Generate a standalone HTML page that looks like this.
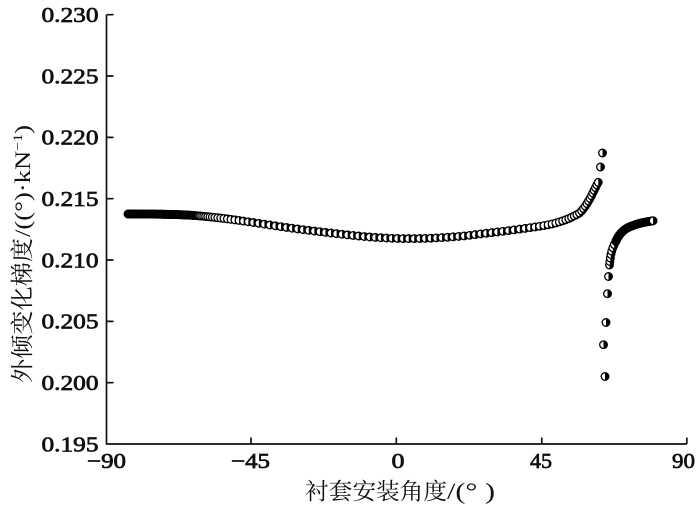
<!DOCTYPE html>
<html>
<head>
<meta charset="utf-8">
<style>
html,body{margin:0;padding:0;background:#fff;}
svg{display:block;}
.t{font-family:"Liberation Serif","Noto Serif CJK SC",serif;fill:#111;}
.n{font-size:21px;stroke:#111;stroke-width:0.7px;}
</style>
</head>
<body>
<svg id="s" width="700" height="505" viewBox="0 0 700 505" xmlns="http://www.w3.org/2000/svg">
<rect width="700" height="505" fill="#fff"/>
<!-- axes -->
<g stroke="#111" stroke-width="1.7" fill="none">
<path d="M106.5,14.7 L106.5,444 L686.8,444"/>
<path d="M106.5,14.7H113.5M106.5,76H113.5M106.5,137.4H113.5M106.5,198.7H113.5M106.5,260H113.5M106.5,321.4H113.5M106.5,382.7H113.5"/>
<path d="M251,444V437.5M396.3,444V437.5M541.8,444V437.5M686.8,444V437.5"/>
</g>
<!-- y tick labels -->
<g class="t n" text-anchor="end">
<text x="98.5" y="22" textLength="57" lengthAdjust="spacingAndGlyphs">0.230</text>
<text x="98.5" y="83.3" textLength="57" lengthAdjust="spacingAndGlyphs">0.225</text>
<text x="98.5" y="144.7" textLength="57" lengthAdjust="spacingAndGlyphs">0.220</text>
<text x="98.5" y="206" textLength="57" lengthAdjust="spacingAndGlyphs">0.215</text>
<text x="98.5" y="267.3" textLength="57" lengthAdjust="spacingAndGlyphs">0.210</text>
<text x="98.5" y="328.7" textLength="57" lengthAdjust="spacingAndGlyphs">0.205</text>
<text x="98.5" y="390" textLength="57" lengthAdjust="spacingAndGlyphs">0.200</text>
<text x="98.5" y="451.3" textLength="57" lengthAdjust="spacingAndGlyphs">0.195</text>
</g>
<!-- x tick labels -->
<g class="t n">
<text x="87" y="468" textLength="39" lengthAdjust="spacingAndGlyphs">−90</text>
<text x="231" y="468" textLength="39" lengthAdjust="spacingAndGlyphs">−45</text>
<text x="391.5" y="468" textLength="13" lengthAdjust="spacingAndGlyphs">0</text>
<text x="530" y="468" textLength="22" lengthAdjust="spacingAndGlyphs">45</text>
<text x="672" y="468" textLength="23" lengthAdjust="spacingAndGlyphs">90</text>
</g>
<!-- x title -->
<g class="t">
<text x="305" y="499" font-size="23" textLength="142" lengthAdjust="spacingAndGlyphs">衬套安装角度</text>
<text x="447" y="499" font-size="23" textLength="48" lengthAdjust="spacingAndGlyphs">/(° )</text>
</g>
<!-- y title -->
<g class="t" transform="translate(30,383) rotate(-90)">
<text x="0" y="0" font-size="23" textLength="145" lengthAdjust="spacingAndGlyphs">外倾变化梯度</text>
<text x="146" y="0" font-size="22" textLength="112" lengthAdjust="spacingAndGlyphs">/((°)·kN<tspan font-size="13" dy="-8">−1</tspan><tspan dy="8">)</tspan></text>
</g>
<g id="pts"></g>
<path d="M128.5,214 L160,214.2 L192,215.4" stroke="#000" stroke-width="7.6" stroke-linecap="round" fill="none"/>
</svg>
<script>
(function(){
function spline(P,steps){
  var out=[];
  for(var i=0;i<P.length-1;i++){
    var p0=P[Math.max(i-1,0)],p1=P[i],p2=P[i+1],p3=P[Math.min(i+2,P.length-1)];
    for(var k=0;k<steps;k++){
      var t=k/steps,t2=t*t,t3=t2*t;
      var f=function(a,b,c,d){return 0.5*((2*b)+(-a+c)*t+(2*a-5*b+4*c-d)*t2+(-a+3*b-3*c+d)*t3);};
      out.push([f(p0[0],p1[0],p2[0],p3[0]),f(p0[1],p1[1],p2[1],p3[1])]);
    }
  }
  out.push(P[P.length-1]);
  return out;
}
function place(P,sp){
  var pts=spline(P,200);var res=[pts[0]];var acc=0;
  for(var i=1;i<pts.length;i++){
    acc+=Math.hypot(pts[i][0]-pts[i-1][0],pts[i][1]-pts[i-1][1]);
    if(acc>=sp(pts[i][0])){res.push(pts[i]);acc=0;}
  }
  return res;
}
var main=[[128,214],[160,214.2],[190,215.2],[220,218],[250,222],[280,226.5],[310,230.5],[340,234],[370,237],[400,238.5],[430,238.2],[460,236.3],[480,234],[513,230],[547,225],[565,220],[575,215.5],[580,212.5],[585,206.5],[590,198.5],[594,190.5],[597,184.5],[599,181]];
function spMain(x){
  if(x<185) return 0.6;
  if(x<260) return 0.6+(x-185)/75*4.9;
  if(x<520) return 5.5;
  if(x<572) return 5.5-(x-520)/52*2.5;
  return 3;
}
var right=[[609.5,265],[610.2,259],[611.5,252],[613.3,246.7],[616,241],[618.3,236.7],[622,232],[626.7,228.3],[633,225.5],[640,223.3],[647,221.8],[653.3,220.7]];
function spRight(x){
  if(x<616) return 3.5;
  return 0.8;
}
var A=place(main,spMain);
A.push([600.5,167]);A.push([602.5,153]);
var B=[[605,376.5],[603.5,344.7],[606,322.5],[607.5,293.7],[608.5,276.5]].concat(place(right,spRight));
var r=3.8,s='';
function mk(p){
  var x=p[0].toFixed(2),y=p[1];
  s+='<circle cx="'+x+'" cy="'+y.toFixed(2)+'" r="'+r+'" fill="#fff" stroke="#000" stroke-width="1.3"/>';
  s+='<path d="M'+x+','+(y-r).toFixed(2)+'A'+r+','+r+' 0 0 1 '+x+','+(y+r).toFixed(2)+'Z" fill="#000"/>';
}
A.forEach(mk);B.forEach(mk);
document.getElementById('pts').innerHTML=s;
})();
</script>
</body>
</html>
